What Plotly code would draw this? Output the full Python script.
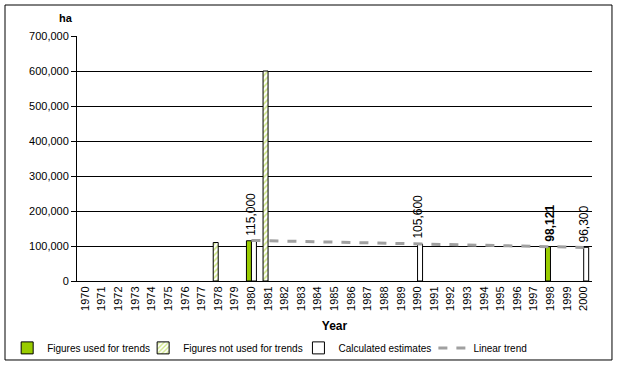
import plotly.graph_objects as go

years = [str(y) for y in range(1970, 2001)]

used_years = ["1980", "1998"]
used_values = [115000, 98121]

not_used_years = ["1978", "1981"]
not_used_values = [110000, 600000]

calc_years = ["1980", "1990", "2000"]
calc_values = [115000, 105600, 96300]

trend_years = ["1980", "2000"]
trend_values = [116000, 96000]

label_years = ["1980", "1990", "1998", "2000"]
label_values = [115000, 105600, 98121, 96300]
label_texts = ["115,000", "105,600", "<b>98,121</b>", "96,300"]

y_ticks = [0, 100000, 200000, 300000, 400000, 500000, 600000, 700000]

FONT = "Liberation Sans, Arial, sans-serif"
GREEN = "#99CC00"
LEG_Y = -0.273

fig = go.Figure()

fig.add_trace(go.Bar(
    x=used_years, y=used_values, name="Figures used for trends",
    offsetgroup="a", legend="legend",
    marker=dict(color=GREEN, line=dict(color="black", width=1)),
))
fig.add_trace(go.Bar(
    x=not_used_years, y=not_used_values, name="Figures not used for trends",
    offsetgroup="a", legend="legend2",
    marker=dict(color="white", line=dict(color="black", width=1),
                pattern=dict(shape="/", fgcolor=GREEN, bgcolor="white", size=4, solidity=0.4)),
))
fig.add_trace(go.Bar(
    x=calc_years, y=calc_values, name="Calculated estimates",
    offsetgroup="b", legend="legend3",
    marker=dict(color="white", line=dict(color="black", width=1)),
))
fig.add_trace(go.Scatter(
    x=trend_years, y=trend_values, name="Linear trend", mode="lines",
    legend="legend4",
    line=dict(color="#A0A0A0", width=3, dash="dash"),
))

for yr, v, t in zip(label_years, label_values, label_texts):
    fig.add_annotation(x=years.index(yr), y=v, text=t, textangle=-90, showarrow=False,
                       xref="x", yref="y", yanchor="bottom", xanchor="center",
                       yshift=3, font=dict(family=FONT, size=12, color="black"))

fig.add_annotation(x=-0.022, y=1.073, xref="paper", yref="paper", text="<b>ha</b>",
                   xanchor="center", yanchor="middle",
                   showarrow=False, font=dict(family=FONT, size=11, color="black"))

fig.add_shape(type="rect", xref="paper", yref="paper",
              x0=-0.1398, x1=1.0388, y0=-0.3224, y1=1.1265,
              line=dict(color="black", width=1), fillcolor="rgba(0,0,0,0)", layer="below")

leg_common = dict(orientation="h", y=LEG_Y, xanchor="left", yanchor="middle",
                  font=dict(family=FONT, size=10), bgcolor="rgba(0,0,0,0)",
                  itemwidth=30)

fig.update_layout(
    width=618, height=367,
    margin=dict(l=77, r=26, t=36, b=86, autoexpand=False),
    paper_bgcolor="white", plot_bgcolor="white",
    barmode="group", bargap=0.4, bargroupgap=0,
    font=dict(family=FONT, size=11, color="black"),
    showlegend=True,
    legend=dict(x=-0.1356, **leg_common),
    legend2=dict(x=0.1284, **leg_common),
    legend3=dict(x=0.4300, **leg_common),
    legend4=dict(x=0.692, **leg_common),
    xaxis=dict(type="category", categoryorder="array", categoryarray=years,
               range=[-0.5, len(years) - 0.5], automargin=False,
               tickangle=-90, showline=True, linecolor="black", linewidth=1,
               ticks="", showgrid=False, tickfont=dict(size=11),
               title=dict(text="<b>Year</b>", standoff=11, font=dict(size=12))),
    yaxis=dict(range=[0, 700000], tickvals=y_ticks, tickformat=",",
               showline=True, linecolor="black", linewidth=1, automargin=False,
               ticks="outside", ticklen=5, tickcolor="black",
               showgrid=True, gridcolor="black", gridwidth=1,
               zeroline=False, tickfont=dict(size=11)),
)

fig.write_html("out.html", config={"displayModeBar": False},
               post_script="document.body.style.margin='0';")
